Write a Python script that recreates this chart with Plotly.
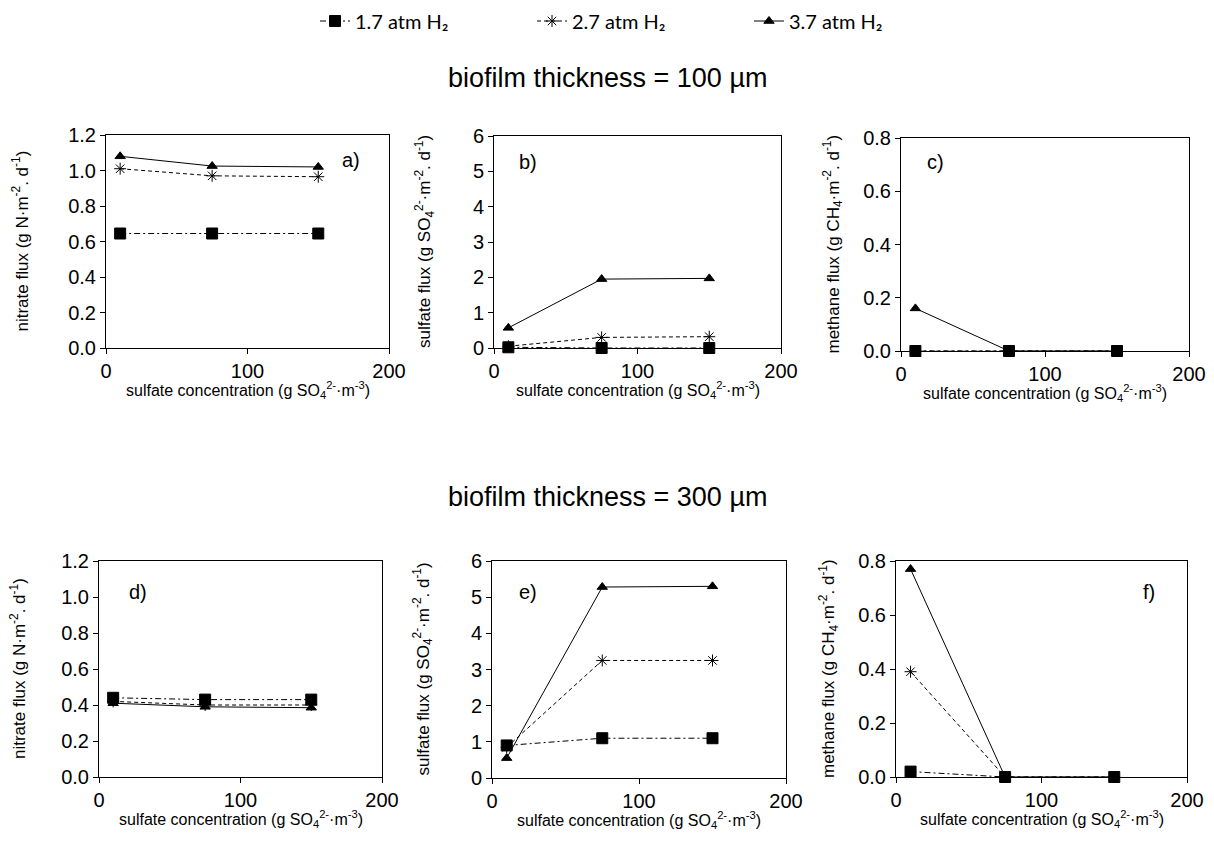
import plotly.graph_objects as go

# The page body has an 8px default margin; the figure is sized and positioned to compensate.
OFF = 8
W, H = 1214 - OFF, 856 - OFF

sulfate_conc = [10, 75, 150]
series_names = ["1.7 atm H₂", "2.7 atm H₂", "3.7 atm H₂"]

# biofilm 100 µm
nitrate_100 = [[0.645, 0.645, 0.645], [1.01, 0.97, 0.965], [1.08, 1.025, 1.02]]
sulfate_100 = [[0.02, 0.0, 0.0], [0.05, 0.30, 0.32], [0.57, 1.95, 1.97]]
methane_100 = [[0.0, 0.0, 0.0], [0.0, 0.0, 0.0], [0.16, 0.0, 0.0]]
# biofilm 300 µm
nitrate_300 = [[0.44, 0.43, 0.43], [0.42, 0.40, 0.40], [0.41, 0.39, 0.385]]
sulfate_300 = [[0.90, 1.10, 1.10], [0.85, 3.25, 3.25], [0.55, 5.28, 5.30]]
methane_300 = [[0.02, 0.0, 0.0], [0.39, 0.0, 0.0], [0.77, 0.0, 0.0]]

panel_labels = ["a)", "b)", "c)", "d)", "e)", "f)"]
row_titles = ["biofilm thickness = 100 µm", "biofilm thickness = 300 µm"]

ytitle_n = "nitrate flux (g N·m<sup>-2</sup>. d<sup>-1</sup>)"
ytitle_s = "sulfate flux (g SO<sub>4</sub><sup>2-</sup>·m<sup>-2</sup>. d<sup>-1</sup>)"
ytitle_m = "methane flux (g CH<sub>4</sub>·m<sup>-2</sup>. d<sup>-1</sup>)"
xtitle = "sulfate concentration (g SO<sub>4</sub><sup>2-</sup>·m<sup>-3</sup>)"

styles = [
    dict(dash="6px,3px,2px,3px", symbol="square", size=11),
    dict(dash="4px,3px", symbol="asterisk-open", size=10),
    dict(dash="solid", symbol="triangle-up", size=9),
]


def px(x):
    return (x - OFF) / W


def py(y):
    return 1 - (y - OFF) / H


# pixel boxes in the page (left, right, top, bottom)
boxes = [
    (106, 389, 135, 348),
    (494, 781, 136, 348),
    (901, 1189, 138, 351),
    (99, 382, 561, 777),
    (492, 786, 561, 778),
    (896, 1187, 561, 777),
]
data_sets = [nitrate_100, sulfate_100, methane_100, nitrate_300, sulfate_300, methane_300]
yconf = [
    dict(range=[0, 1.2], dtick=0.2, tickformat=".1f"),
    dict(range=[0, 6], dtick=1, tickformat="d"),
    dict(range=[0, 0.8], dtick=0.2, tickformat=".1f"),
]
ytitles = [ytitle_n, ytitle_s, ytitle_m]
label_pos = [(362, 160, "right"), (517, 162, "left"), (925, 162, "left"),
             (127, 592, "left"), (517, 592, "left"), (1157, 592, "right")]
ytitle_x = [20, 425, 833, 18, 423, 828]

FONT = "Liberation Sans, Arial, sans-serif"
fig = go.Figure()
annotations = []

for i, (box, ds) in enumerate(zip(boxes, data_sets)):
    l, r, t, b = box
    ax = "" if i == 0 else str(i + 1)
    for k in range(3):
        st = styles[k]
        fig.add_trace(go.Scatter(
            x=sulfate_conc, y=ds[k], mode="lines+markers",
            name=series_names[k], legendgroup=series_names[k], showlegend=(i == 0),
            xaxis="x" + ax, yaxis="y" + ax, cliponaxis=False,
            line=dict(color="black", width=1, dash=st["dash"]),
            marker=dict(symbol=st["symbol"], size=st["size"], color="black",
                        line=dict(color="black", width=1)),
        ))
    common = dict(showline=True, linecolor="black", linewidth=1, mirror=True,
                  ticks="outside", ticklen=5, tickcolor="black", showgrid=False,
                  zeroline=False, automargin=False,
                  tickfont=dict(family=FONT, size=20, color="black"))
    fig.layout["xaxis" + ax] = dict(domain=[px(l), px(r)], anchor="y" + ax,
                                    range=[0, 200], dtick=100, **common)
    fig.layout["yaxis" + ax] = dict(domain=[py(b), py(t)], anchor="x" + ax,
                                    **yconf[i % 3], **common)
    # axis titles
    annotations.append(dict(text=xtitle, x=px((l + r) / 2), y=py(b + 42),
                            xref="paper", yref="paper", showarrow=False,
                            xanchor="center", yanchor="middle",
                            font=dict(family=FONT, size=16, color="black")))
    annotations.append(dict(text=ytitles[i % 3], x=px(ytitle_x[i]), y=py((t + b) / 2),
                            xref="paper", yref="paper", showarrow=False, textangle=-90,
                            xanchor="center", yanchor="middle",
                            font=dict(family=FONT, size=17, color="black")))
    lx, ly, anc = label_pos[i]
    annotations.append(dict(text=panel_labels[i], x=px(lx), y=py(ly),
                            xref="paper", yref="paper", showarrow=False,
                            xanchor=anc, yanchor="middle",
                            font=dict(family=FONT, size=20, color="black")))

for txt, yy in zip(row_titles, [78, 497]):
    annotations.append(dict(text=txt, x=px(607), y=py(yy), xref="paper", yref="paper",
                            showarrow=False, xanchor="center", yanchor="middle",
                            font=dict(family=FONT, size=27, color="black")))

fig.update_layout(
    width=W, height=H,
    margin=dict(l=0, r=0, t=0, b=0, autoexpand=False),
    paper_bgcolor="white", plot_bgcolor="white",
    annotations=annotations,
    legend=dict(orientation="h", xref="container", yref="container",
                x=px(315), xanchor="left", y=py(21), yanchor="middle",
                font=dict(family="Lato, Open Sans, sans-serif", size=20, color="black"),
                entrywidth=172, entrywidthmode="pixels", tracegroupgap=0),
    showlegend=True,
)

fig.write_html("out.html")
